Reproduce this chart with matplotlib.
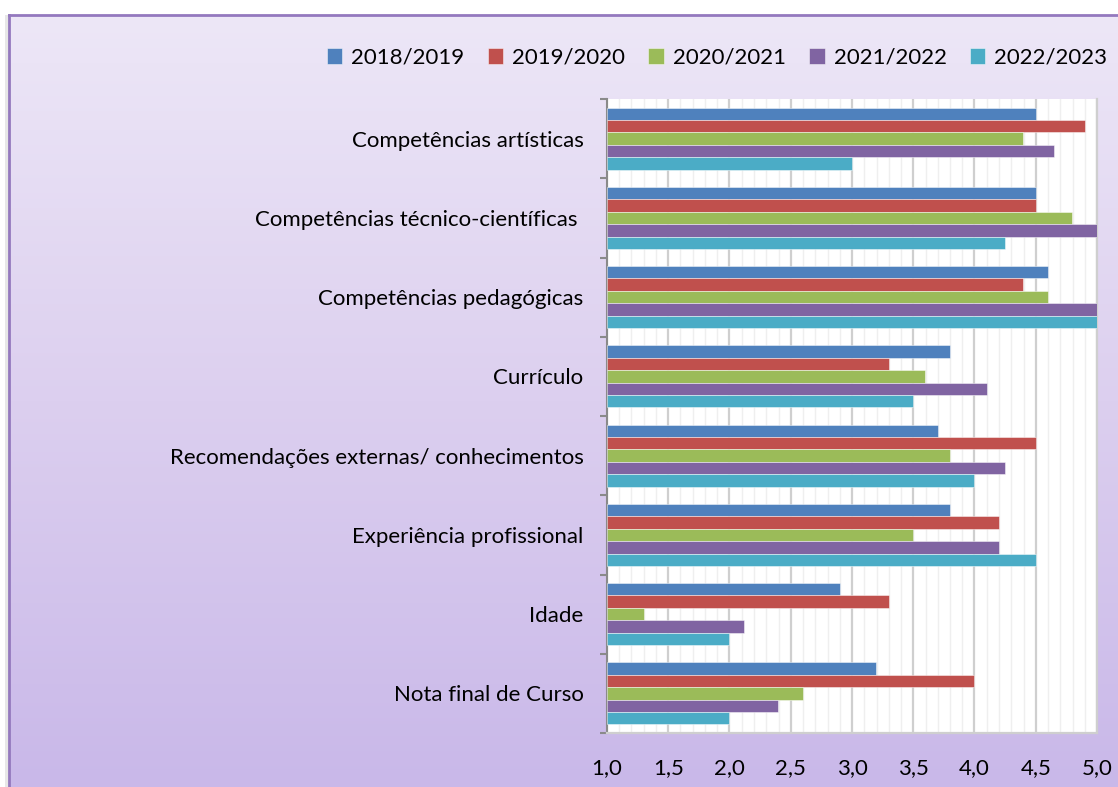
import numpy as np
import matplotlib
matplotlib.use("Agg")
import matplotlib.pyplot as plt
from matplotlib.colors import LinearSegmentedColormap
from matplotlib.patches import Rectangle

plt.rcParams['font.family'] = ['Lato', 'DejaVu Sans']

categories = [
    "Competências artísticas",
    "Competências técnico-científicas ",
    "Competências pedagógicas",
    "Currículo",
    "Recomendações externas/ conhecimentos",
    "Experiência profissional",
    "Idade",
    "Nota final de Curso",
]
series_names = ["2018/2019", "2019/2020", "2020/2021", "2021/2022", "2022/2023"]
colors = ["#4F81BD", "#C0504D", "#9BBB59", "#8064A2", "#4BACC6"]

v2018 = [4.5, 4.5, 4.6, 3.8, 3.7, 3.8, 2.9, 3.2]
v2019 = [4.9, 4.5, 4.4, 3.3, 4.5, 4.2, 3.3, 4.0]
v2020 = [4.4, 4.8, 4.6, 3.6, 3.8, 3.5, 1.3, 2.6]
v2021 = [4.65, 5.0, 5.0, 4.1, 4.25, 4.2, 2.12, 2.4]
v2022 = [3.0, 4.25, 5.0, 3.5, 4.0, 4.5, 2.0, 2.0]
series = [v2018, v2019, v2020, v2021, v2022]

xticks = [1.0, 1.5, 2.0, 2.5, 3.0, 3.5, 4.0, 4.5, 5.0]
xticklabels = ["1,0", "1,5", "2,0", "2,5", "3,0", "3,5", "4,0", "4,5", "5,0"]

W, H = 1118, 787
fig = plt.figure(figsize=(W / 100, H / 100), dpi=100)
fig.patch.set_facecolor("white")

# chart frame with vertical lavender gradient
fx0, fy1 = 9 / W, 1 - 15 / H
bg = fig.add_axes([fx0, 0, 1 - fx0, fy1], zorder=0)
grad = LinearSegmentedColormap.from_list("lav", ["#EDE7F7", "#DCCFEF", "#C9B8E9"])
bg.imshow(np.linspace(0, 1, 256).reshape(-1, 1), aspect="auto", cmap=grad,
          extent=[0, 1, 0, 1], origin="upper")
bg.set_xlim(0, 1)
bg.set_ylim(0, 1)
bg.axis("off")
# soft shadow on the left of the frame
fig.patches.append(Rectangle((fx0 - 4 / W, 0), 4 / W, fy1, transform=fig.transFigure,
                             facecolor="#D8D8D8", edgecolor="none", zorder=0.5, alpha=0.6))
fig.add_artist(plt.Line2D([fx0, fx0], [0, fy1], color="#9479BE", lw=2.0, zorder=3))
fig.add_artist(plt.Line2D([fx0, 1], [fy1, fy1], color="#9479BE", lw=2.0, zorder=3))

left, right = 607 / W, 1097 / W
top, bottom = 1 - 99 / H, 1 - 733 / H
ax = fig.add_axes([left, bottom, right - left, top - bottom], zorder=2)
ax.set_facecolor("white")

n = len(categories)
h = 0.157
y = np.arange(n)
for j, (name, vals, c) in enumerate(zip(series_names, series, colors)):
    ax.barh(y + (j - 2) * h, np.array(vals) - 1.0, left=1.0, height=h, color=c,
            edgecolor=(1, 1, 1, 0.55), linewidth=0.6, label=name, zorder=3)

ax.set_xlim(1.0, 5.0)
ax.set_ylim(n - 0.5, -0.5)

ax.set_xticks(xticks)
ax.set_xticklabels(xticklabels)
ax.set_xticks(np.arange(1.0, 5.001, 0.1), minor=True)
ax.grid(which="minor", axis="x", color="#EFEFEF", lw=1.0, zorder=0)
ax.grid(which="major", axis="x", color="#CFCFCF", lw=1.6, zorder=1)
ax.tick_params(axis="x", which="both", length=0, pad=18, labelsize=16, colors="black")

ax.set_yticks(y)
ax.set_yticklabels(categories)
ax.set_yticks(np.arange(-0.5, n, 1.0), minor=True)
ax.tick_params(axis="y", which="major", length=0, pad=17, labelsize=16)
ax.tick_params(axis="y", which="minor", length=5, width=1.5, color="#8A8A8A", direction="out")

ax.spines["top"].set_visible(False)
ax.spines["left"].set_color("#8A8A8A")
ax.spines["left"].set_linewidth(1.5)
ax.spines["bottom"].set_color("#CFCFCF")
ax.spines["bottom"].set_linewidth(1.6)
ax.spines["right"].set_color("#CFCFCF")
ax.spines["right"].set_linewidth(1.6)

handles, labels = ax.get_legend_handles_labels()
fig.legend(handles, labels, loc="center", ncol=5, frameon=False,
           bbox_to_anchor=(717 / W, 1 - 58 / H), fontsize=16,
           handlelength=0.7, handleheight=0.7, handletextpad=0.4,
           columnspacing=1.05)

fig.savefig("out.png", dpi=100)
